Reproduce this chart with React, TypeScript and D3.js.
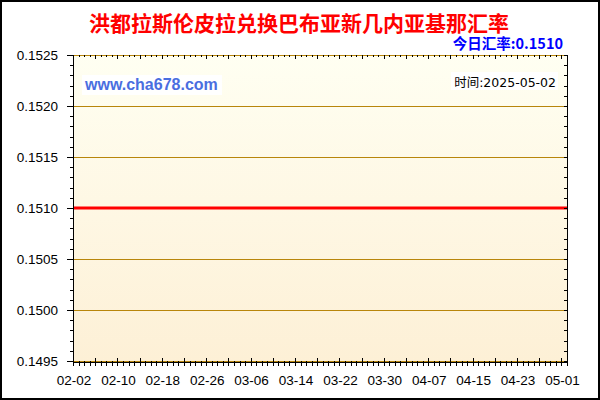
import React from 'react';
import * as d3 from 'd3';

// chart data
const startDate = '2025-02-02';
const endDate = '2025-05-02';
const rates = [
    0.1510, 0.1510, 0.1510, 0.1510, 0.1510, 0.1510, 0.1510, 0.1510, 0.1510, 0.1510,
    0.1510, 0.1510, 0.1510, 0.1510, 0.1510, 0.1510, 0.1510, 0.1510, 0.1510, 0.1510,
    0.1510, 0.1510, 0.1510, 0.1510, 0.1510, 0.1510, 0.1510, 0.1510, 0.1510, 0.1510,
    0.1510, 0.1510, 0.1510, 0.1510, 0.1510, 0.1510, 0.1510, 0.1510, 0.1510, 0.1510,
    0.1510, 0.1510, 0.1510, 0.1510, 0.1510, 0.1510, 0.1510, 0.1510, 0.1510, 0.1510,
    0.1510, 0.1510, 0.1510, 0.1510, 0.1510, 0.1510, 0.1510, 0.1510, 0.1510, 0.1510,
    0.1510, 0.1510, 0.1510, 0.1510, 0.1510, 0.1510, 0.1510, 0.1510, 0.1510, 0.1510,
    0.1510, 0.1510, 0.1510, 0.1510, 0.1510, 0.1510, 0.1510, 0.1510, 0.1510, 0.1510,
    0.1510, 0.1510, 0.1510, 0.1510, 0.1510, 0.1510, 0.1510, 0.1510, 0.1510, 0.1510,
];
const yTicks = [0.1495, 0.15, 0.1505, 0.151, 0.1515, 0.152, 0.1525];
const xTickLabels = [
    '02-02', '02-10', '02-18', '02-26', '03-06', '03-14',
    '03-22', '03-30', '04-07', '04-15', '04-23', '05-01',
];

const TITLE = '洪都拉斯伦皮拉兑换巴布亚新几内亚基那汇率';
const TODAY = '今日汇率:0.1510';
const SITE = 'www.cha678.com';
const STAMP = '时间:2025-05-02';

const W = 600;
const H = 400;
const L = 73;
const R = 567;
const T = 55;
const B = 361;

const parse = d3.utcParse('%Y-%m-%d');
const FONT = '"Liberation Sans", Arial, sans-serif';
const CJK = '"Noto Sans CJK SC", "Liberation Sans", sans-serif';
const STAMP_FONT = '"DejaVu Sans", "Noto Sans CJK SC", sans-serif';

// snap a 1px line to the pixel grid
const px = (v: number) => Math.round(v) + 0.5;

export default function App() {
    const t0 = parse(startDate)!;
    const t1 = parse(endDate)!;
    const x = d3.scaleUtc().domain([t0, t1]).range([L, R]);
    const y = d3.scaleLinear().domain([0.1495, 0.1525]).range([B, T]);

    const points = rates.map((v, i) => ({ date: d3.utcDay.offset(t0, i), v }));
    const line = d3
        .line<{ date: Date; v: number }>()
        .x((d) => x(d.date))
        .y((d) => y(d.v));

    const days = d3.utcDay.range(t0, d3.utcDay.offset(t1, 1));
    const yMinor = y.ticks(30);
    const labelDate = (s: string) => parse(`2025-${s}`)!;

    return (
        <div style={{ position: 'absolute', left: 0, top: 0 }}>
            <svg width={W} height={H} style={{ display: 'block' }}>
                <defs>
                    <linearGradient id="bg" x1="0" y1="0" x2="0" y2="1">
                        <stop offset="0%" stopColor="#fffff2" />
                        <stop offset="100%" stopColor="#fdf0d6" />
                    </linearGradient>
                </defs>
                <rect x={0} y={0} width={W} height={H} fill="#fff" />
                <rect x={1} y={1} width={W - 2} height={H - 2} fill="none" stroke="#000" strokeWidth={2} />

                {/* plot area */}
                <rect x={L} y={T} width={R - L} height={B - T} fill="url(#bg)" />
                <g shapeRendering="crispEdges">
                    {yTicks.map((t) => (
                        <line key={t} x1={L} x2={R} y1={px(y(t))} y2={px(y(t))} stroke="#b8860b" />
                    ))}
                </g>

                {/* watermark + time stamp */}
                <rect x={82} y={75} width={140} height={20} fill="#fff" />
                <text x={85} y={90} fontFamily={FONT} fontWeight="bold" fontSize={16} fill="#4a6ee0">
                    {SITE}
                </text>
                <rect x={451} y={72} width={107} height={18} fill="#fff" />
                <text x={556} y={87} textAnchor="end" fontFamily={STAMP_FONT} fontSize={12.5} fill="#000">
                    {STAMP}
                </text>

                {/* rate line */}
                <path d={line(points) ?? ''} fill="none" stroke="#ff0000" strokeWidth={3} />

                <g shapeRendering="crispEdges" stroke="#000">
                    {/* left axis */}
                    <line x1={px(L)} x2={px(L)} y1={T} y2={B + 3} />
                    {yMinor.map((t, i) => (
                        <line key={i} x1={L - 3} x2={L} y1={px(y(t))} y2={px(y(t))} />
                    ))}
                    {yTicks.map((t) => (
                        <line key={t} x1={L - 6} x2={L} y1={px(y(t))} y2={px(y(t))} />
                    ))}

                    {/* right axis */}
                    <line x1={px(R)} x2={px(R)} y1={T} y2={B + 3} />
                    {yMinor.map((t, i) => (
                        <line key={i} x1={R - 3} x2={R} y1={px(y(t))} y2={px(y(t))} />
                    ))}

                    {/* top axis */}
                    {days.map((d, i) => (
                        <line
                            key={i}
                            x1={px(x(d))}
                            x2={px(x(d))}
                            y1={T}
                            y2={T + (i % 4 === 0 ? 4 : 2)}
                        />
                    ))}

                    {/* bottom axis */}
                    <line x1={L} x2={R + 1} y1={px(B + 1)} y2={px(B + 1)} />
                    {days.map((d, i) => (
                        <line
                            key={i}
                            x1={px(x(d))}
                            x2={px(x(d))}
                            y1={i % 4 === 0 ? B - 3 : B}
                            y2={B + 5}
                        />
                    ))}
                </g>

                {yTicks.map((t) => (
                    <text
                        key={t}
                        x={L - 15}
                        y={y(t)}
                        dy="0.35em"
                        textAnchor="end"
                        fontFamily={FONT}
                        fontSize={13.5}
                        fill="#000"
                    >
                        {d3.format('.4f')(t)}
                    </text>
                ))}
                {xTickLabels.map((s) => (
                    <text
                        key={s}
                        x={x(labelDate(s)) + 1}
                        y={385}
                        textAnchor="middle"
                        fontFamily={FONT}
                        fontSize={13.5}
                        fill="#000"
                    >
                        {s}
                    </text>
                ))}

                {/* titles */}
                <text
                    x={299}
                    y={31}
                    textAnchor="middle"
                    fontFamily={CJK}
                    fontWeight="bold"
                    fontSize={21}
                    fill="#ff0000"
                >
                    {TITLE}
                </text>
                <text
                    x={563}
                    y={49}
                    textAnchor="end"
                    fontFamily={CJK}
                    fontWeight="bold"
                    fontSize={14.5}
                    fill="#0000ff"
                >
                    {TODAY}
                </text>
            </svg>
        </div>
    );
}
